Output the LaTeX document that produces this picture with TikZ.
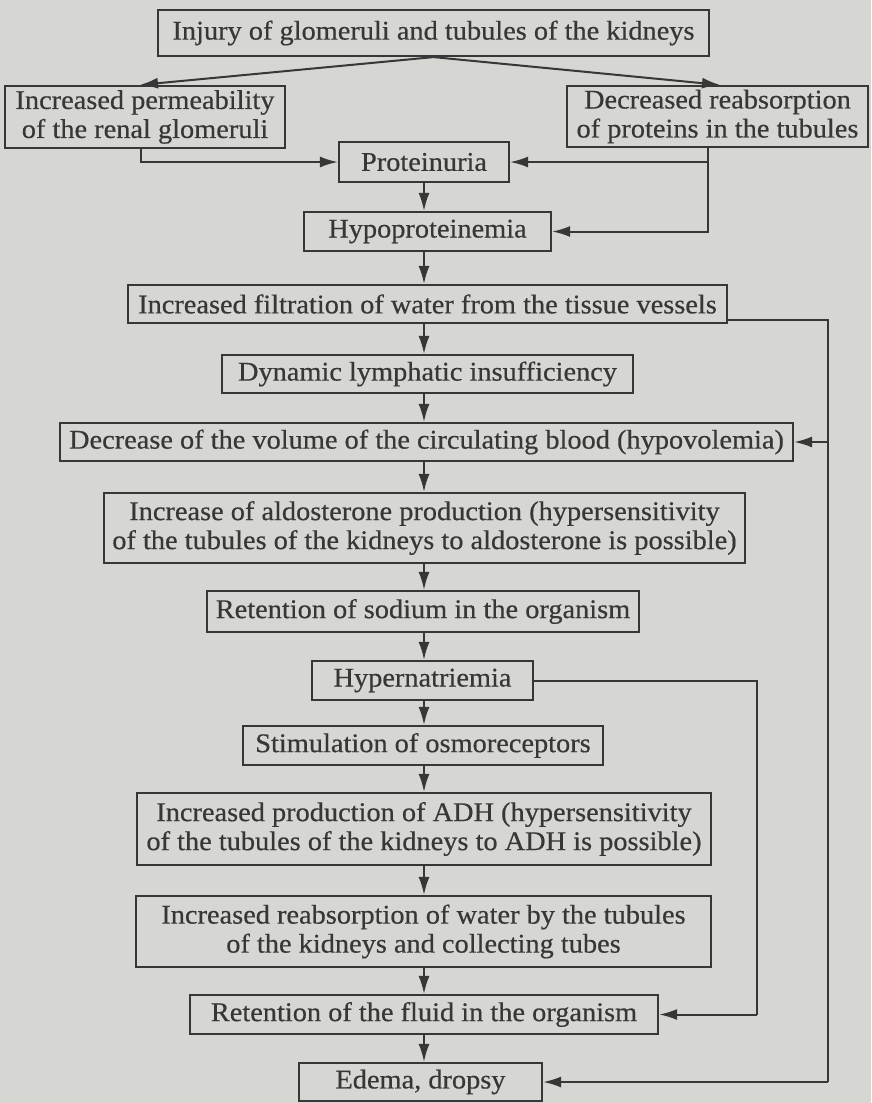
\documentclass[tikz,border=0pt]{standalone}
\usepackage{fontspec}
\setmainfont[FakeStretch=1.05,FakeBold=0.5]{Liberation Serif}
\usetikzlibrary{arrows.meta,calc}
\definecolor{paper}{RGB}{214,214,210}
\definecolor{ink}{RGB}{55,55,55}

\begin{document}
\begin{tikzpicture}[x=1pt,y=-1pt,
  box/.style={draw=ink, line width=2.2pt, text=ink, align=center, inner sep=0pt,
              font=\fontsize{27}{29}\selectfont},
  arr/.style={draw=ink, line width=2pt, -{Latex[length=18pt,width=11pt]}},
  link/.style={draw=ink, line width=2pt}]

\fill[paper] (0,0) rectangle (871,1103);
\useasboundingbox (0,0) rectangle (871,1103);

% guide coordinates for the connector routes
\coordinate (axis) at (424,0);
\coordinate (lx) at (141,0);
\coordinate (rx) at (708,0);
\coordinate (hx) at (757,0);
\coordinate (bx) at (828,0);

% boxes
\node[box, minimum width=551pt, minimum height=46pt] (inj) at (433.5,33)
  {Injury of glomeruli and tubules of the kidneys};
\node[box, minimum width=280pt, minimum height=62pt] (perm) at (145,117)
  {Increased permeability\\of the renal glomeruli};
\node[box, minimum width=301pt, minimum height=61pt] (reab) at (717.5,116.5)
  {Decreased reabsorption\\of proteins in the tubules};
\node[box, minimum width=170pt, minimum height=40pt] (prot) at (424,162)
  {Proteinuria};
\node[box, minimum width=247pt, minimum height=39pt] (hypo) at (427.5,231.5)
  {Hypoproteinemia};
\node[box, minimum width=599pt, minimum height=38pt] (filt) at (427.5,304)
  {Increased filtration of water from the tissue vessels};
\node[box, minimum width=411pt, minimum height=38pt] (lymph) at (427.5,374)
  {Dynamic lymphatic insufficiency};
\node[box, minimum width=733pt, minimum height=38pt] (hvol) at (426.5,442)
  {Decrease of the volume of the circulating blood (hypovolemia)};
\node[box, minimum width=641pt, minimum height=70pt] (aldo) at (424.5,528)
  {Increase of aldosterone production (hypersensitivity\\of the tubules of the kidneys to aldosterone is possible)};
\node[box, minimum width=432pt, minimum height=41pt] (sod) at (423,611.5)
  {Retention of sodium in the organism};
\node[box, minimum width=221pt, minimum height=39pt] (hnat) at (422.5,680.5)
  {Hypernatriemia};
\node[box, minimum width=360pt, minimum height=39pt] (osmo) at (423,745.5)
  {Stimulation of osmoreceptors};
\node[box, minimum width=574pt, minimum height=72pt] (adh) at (424,829)
  {Increased production of ADH (hypersensitivity\\of the tubules of the kidneys to ADH is possible)};
\node[box, minimum width=575pt, minimum height=71pt] (rwat) at (423.5,931.5)
  {Increased reabsorption of water by the tubules\\of the kidneys and collecting tubes};
\node[box, minimum width=468pt, minimum height=39pt] (fluid) at (424,1014.5)
  {Retention of the fluid in the organism};
\node[box, minimum width=243pt, minimum height=38pt] (edema) at (420.5,1082)
  {Edema, dropsy};

% branching from the top box
\draw[arr] (inj.south) -- (perm.north -| 140,0);
\draw[arr] (inj.south) -- (reab.north -| 720,0);

% both causes lead to proteinuria
\draw[arr] (perm.south -| lx) |- (prot.west);
\draw[arr] (reab.south -| rx) |- (prot.east);
\draw[arr] (reab.south -| rx) |- (hypo.east);

% main chain
\foreach \a/\b in {prot/hypo, hypo/filt, filt/lymph, lymph/hvol, hvol/aldo,
                   aldo/sod, sod/hnat, hnat/osmo, osmo/adh, adh/rwat,
                   rwat/fluid, fluid/edema}
  \draw[arr] (\a.south -| axis) -- (\b.north -| axis);

% side loops
\coordinate (fa) at ([yshift=-16pt]filt.east);
\draw[link] (fa) -| (bx |- edema.east);
\draw[arr] (bx |- edema.east) -- (edema.east);
\draw[arr] (bx |- hvol.east) -- (hvol.east);
\draw[link] (hnat.east) -| (hx |- fluid.east);
\draw[arr] (hx |- fluid.east) -- (fluid.east);
\end{tikzpicture}
\end{document}
